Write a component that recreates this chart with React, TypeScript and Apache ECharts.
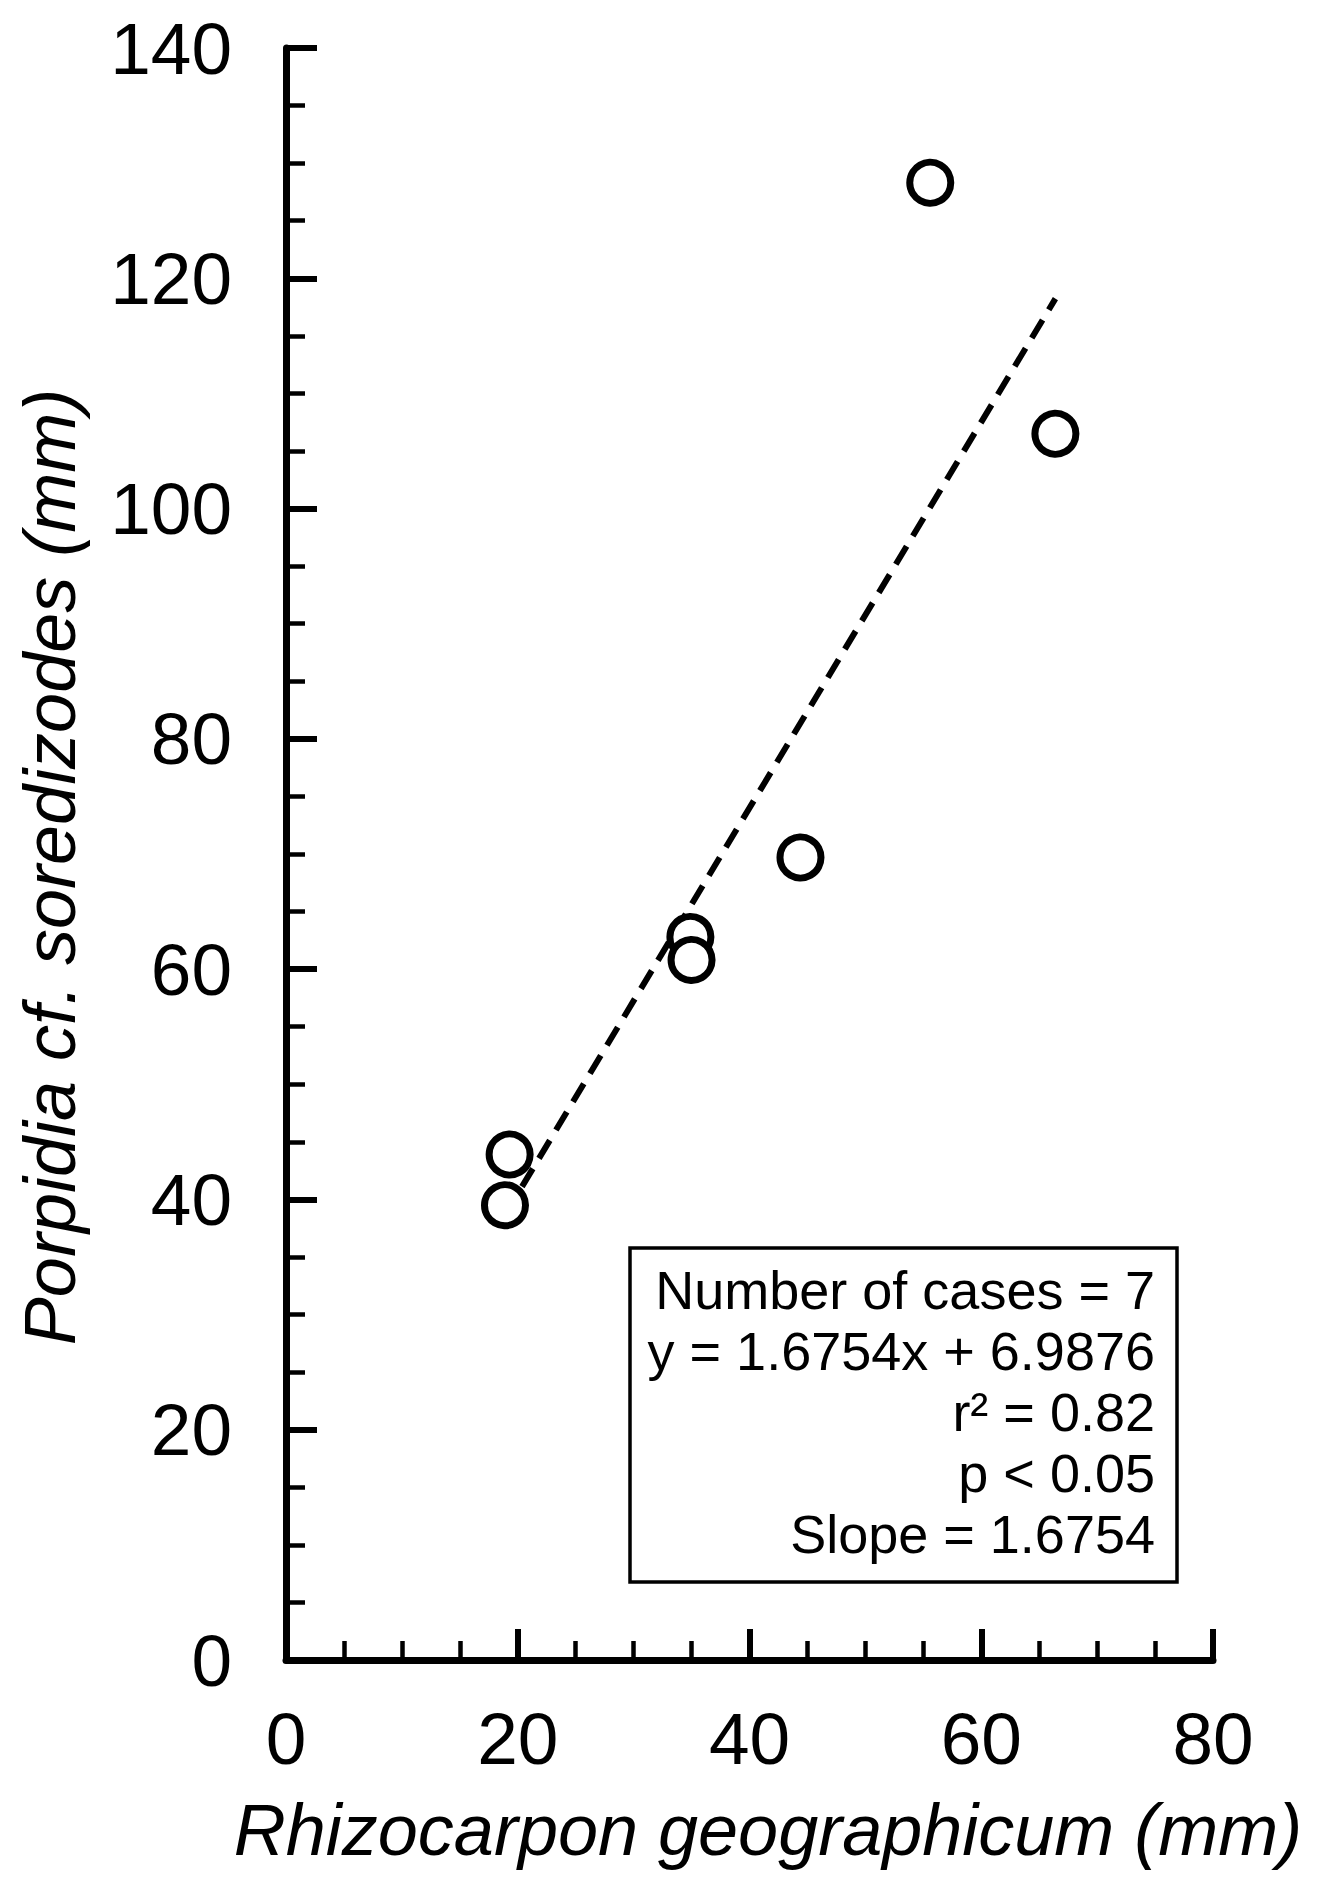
import React, { useEffect, useRef } from "react";
import * as echarts from "echarts";

// Data
const xValues = [55.6, 66.4, 44.4, 34.9, 35.0, 19.3, 18.9];
const yValues = [128.3, 106.5, 69.7, 62.8, 60.8, 43.9, 39.5];
const fitSlope = 1.6754;
const fitIntercept = 6.9876;
const statsLines = [
  "Number of cases = 7",
  "y = 1.6754x + 6.9876",
  "r\u00B2 = 0.82",
  "p < 0.05",
  "Slope = 1.6754",
];
const xTicks = [0, 20, 40, 60, 80];
const yTicks = [0, 20, 40, 60, 80, 100, 120, 140];
const xTitle = "Rhizocarpon geographicum (mm)";
const yTitle = "Porpidia cf. soredizodes (mm)";

const FONT = '"Liberation Sans", Arial, sans-serif';

export default function App() {
  const ref = useRef<HTMLDivElement>(null);

  useEffect(() => {
    if (!ref.current) return;
    const chart = echarts.init(ref.current, null, { renderer: "svg" });

    const points = xValues.map((x, i) => [x, yValues[i]]);
    const xMin = Math.min(...xValues);
    const xMax = Math.max(...xValues);
    const fitLine = [
      [xMin, fitSlope * xMin + fitIntercept],
      [xMax, fitSlope * xMax + fitIntercept],
    ];

    const axisCommon = {
      type: "value" as const,
      splitLine: { show: false },
      axisLine: { show: true, lineStyle: { color: "#000", width: 7 } },
      axisTick: { show: true, inside: true, length: 31, lineStyle: { color: "#000", width: 6 } },
      minorTick: { show: true, splitNumber: 4, length: 19, lineStyle: { color: "#000", width: 4.5 } },
      minorSplitLine: { show: false },
    };

    chart.setOption({
      animation: false,
      backgroundColor: "#fff",
      grid: { left: 286, right: 110, top: 48, bottom: 221, containLabel: false },
      xAxis: {
        ...axisCommon,
        min: xTicks[0],
        max: xTicks[xTicks.length - 1],
        interval: xTicks[1] - xTicks[0],
        axisLabel: {
          color: "#000",
          fontSize: 73,
          fontFamily: FONT,
          margin: 42,
        },
      },
      yAxis: {
        ...axisCommon,
        min: yTicks[0],
        max: yTicks[yTicks.length - 1],
        interval: yTicks[1] - yTicks[0],
        axisLabel: {
          color: "#000",
          fontSize: 73,
          fontFamily: FONT,
          margin: 54,
        },
      },
      series: [
        {
          type: "line",
          data: fitLine,
          showSymbol: false,
          symbol: "none",
          z: 2,
          lineStyle: { color: "#000", width: 6, type: [21, 12] },
        },
        {
          type: "scatter",
          data: points,
          symbol: "circle",
          symbolSize: 41,
          z: 3,
          itemStyle: { color: "#fff", borderColor: "#000", borderWidth: 7, opacity: 1 },
        },
      ],
      graphic: [
        {
          type: "text",
          x: 50,
          y: 867,
          rotation: Math.PI / 2,
          style: {
            text: yTitle,
            fontSize: 72,
            fontFamily: FONT,
            fontStyle: "italic",
            fill: "#000",
            align: "center",
            verticalAlign: "middle",
          },
        },
        {
          type: "text",
          x: 768,
          y: 1830,
          style: {
            text: xTitle,
            fontSize: 72,
            fontFamily: FONT,
            fontStyle: "italic",
            fill: "#000",
            align: "center",
            verticalAlign: "middle",
          },
        },
        {
          type: "rect",
          shape: { x: 630, y: 1248, width: 547, height: 334 },
          style: { fill: "#fff", stroke: "#000", lineWidth: 3.5 },
          z: 10,
        },
        ...statsLines.map((line, i) => ({
          type: "text",
          x: 1155,
          y: 1290 + i * 61,
          z: 11,
          style: {
            text: line,
            fontSize: 54,
            fontFamily: FONT,
            fill: "#000",
            align: "right",
            verticalAlign: "middle",
          },
        })),
      ],
    });

    return () => chart.dispose();
  }, []);

  return (
    <div
      ref={ref}
      style={{ position: "absolute", left: 0, top: 0, width: 1323, height: 1881, background: "#fff" }}
    />
  );
}
